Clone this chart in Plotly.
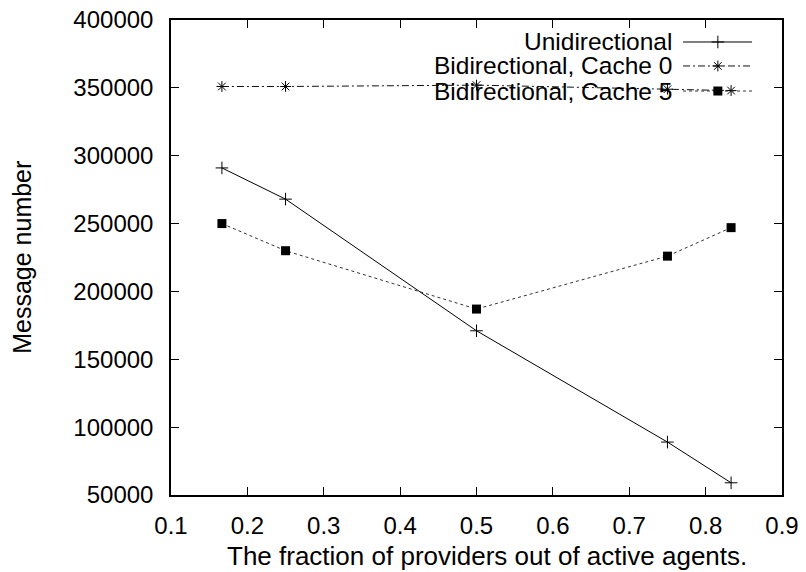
import plotly.graph_objects as go

# Fraction of providers among active agents
fraction = [1/6, 0.25, 0.5, 0.75, 5/6]

# Message counts per configuration
unidirectional = [291000, 268000, 171000, 89000, 59000]
bidir_cache0 = [351000, 351000, 352000, 349000, 348000]
bidir_cache5 = [250000, 230000, 187000, 226000, 247000]

series_names = ["Unidirectional", "Bidirectional, Cache 0", "Bidirectional, Cache 5"]

x_ticks = [0.1, 0.2, 0.3, 0.4, 0.5, 0.6, 0.7, 0.8, 0.9]
y_ticks = [50000, 100000, 150000, 200000, 250000, 300000, 350000, 400000]

FONT = "Liberation Sans, Arial, sans-serif"

styles = [
    dict(line=dict(color="#000000", width=1, dash="solid"),
         marker=dict(symbol="cross-thin-open", size=9, color="#000000",
                     line=dict(color="#000000", width=1))),
    dict(line=dict(color="#111111", width=1, dash="7px,3px,2px,3px"),
         marker=dict(symbol="asterisk-open", size=9, color="#000000",
                     line=dict(color="#000000", width=1))),
    dict(line=dict(color="#333333", width=1, dash="3px,3px"),
         marker=dict(symbol="square", size=9, color="#000000", line=dict(width=0))),
]

fig = go.Figure()
for name, ys, st in zip(series_names, [unidirectional, bidir_cache0, bidir_cache5], styles):
    fig.add_trace(go.Scatter(x=fraction, y=ys, mode="lines+markers", name=name,
                             line=st["line"], marker=st["marker"], showlegend=False))

# Key in the upper right: label on the left, sample line with marker on the right
key_rows = [0.9537, 0.9032, 0.8505]
key_x0, key_x1, key_xm, key_text_x = 0.838, 0.951, 0.895, 0.8232
for name, st, ry in zip(series_names, styles, key_rows):
    fig.add_trace(go.Scatter(x=[key_x0, key_x1], y=[ry, ry], mode="lines",
                             line=st["line"], xaxis="x2", yaxis="y2",
                             showlegend=False, hoverinfo="skip"))
    fig.add_trace(go.Scatter(x=[key_xm], y=[ry], mode="markers",
                             marker=st["marker"], xaxis="x2", yaxis="y2",
                             showlegend=False, hoverinfo="skip"))
    fig.add_annotation(x=key_text_x, y=ry, xref="paper", yref="paper",
                       text=name, showarrow=False, xanchor="right", yanchor="middle",
                       font=dict(family=FONT, size=24.5, color="#000000"))

axis_common = dict(
    showline=True, linecolor="#000000", linewidth=1.5, mirror="ticks",
    ticks="inside", ticklen=8, tickwidth=1, tickcolor="#000000",
    showgrid=False, zeroline=False, automargin=False,
    tickfont=dict(family=FONT, size=24, color="#000000"),
)

fig.update_layout(
    width=806, height=572,
    margin=dict(l=171, r=24, t=20, b=77, autoexpand=False),
    paper_bgcolor="#ffffff", plot_bgcolor="#ffffff",
    xaxis=dict(range=[0.1, 0.9], tickvals=x_ticks,
               ticktext=[f"{v:.1f}" for v in x_ticks], ticklabelstandoff=8, **axis_common),
    yaxis=dict(range=[50000, 400000], tickvals=y_ticks,
               ticktext=[str(v) for v in y_ticks], ticklabelstandoff=11, **axis_common),
    xaxis2=dict(range=[0, 1], overlaying="x", visible=False, fixedrange=True),
    yaxis2=dict(range=[0, 1], overlaying="y", visible=False, fixedrange=True),
    showlegend=False,
)

fig.add_annotation(x=0.5176, y=-0.128, xref="paper", yref="paper",
                   text="The fraction of providers out of active agents.",
                   showarrow=False, xanchor="center", yanchor="middle",
                   font=dict(family=FONT, size=26, color="#000000"))
fig.add_annotation(x=-0.245, y=0.5, xref="paper", yref="paper",
                   text="Message number", textangle=-90,
                   showarrow=False, xanchor="center", yanchor="middle",
                   font=dict(family=FONT, size=25, color="#000000"))

fig.write_html("out.html")
